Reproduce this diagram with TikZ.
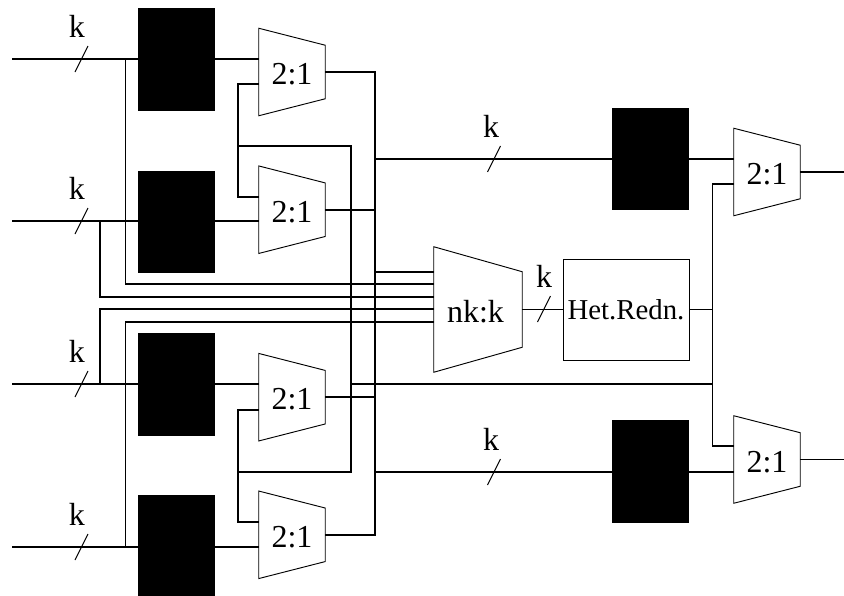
\documentclass[tikz,border=0pt]{standalone}
\usepackage{fontspec}
\setmainfont{Liberation Serif}
\usetikzlibrary{calc}
\tikzset{
  wire/.style={line width=1.25pt},
  thinwire/.style={line width=0.7pt},
  bufbox/.style={draw, thinwire, fill=black, minimum width=57pt, minimum height=76pt, inner sep=0pt},
  hetbox/.style={draw, thinwire, minimum width=94.5pt, minimum height=75.75pt, inner sep=0pt, font=\fontsize{21.6}{22}\selectfont},
  muxbox/.style={minimum width=49.5pt, minimum height=65.25pt, inner sep=0pt, font=\fontsize{24}{24}\selectfont, text height=19pt, text depth=0pt},
  nkbox/.style={minimum width=66pt, minimum height=93.75pt, inner sep=0pt, font=\fontsize{24}{24}\selectfont, text height=19pt, text depth=0pt},
  klabel/.style={anchor=base, inner sep=0pt, font=\fontsize{24}{24}\selectfont},
}
% name, x, y, text
\newcommand{\muxnode}[4]{
  \node[muxbox] (#1) at (#2,#3) {#4};
  \draw[thinwire] (#1.north west) -- ($(#1.north east)+(0,17)$) -- ($(#1.south east)+(0,-17)$) -- (#1.south west) -- cycle;
}
% name, slash x, y, k x
\newcommand{\busmark}[4]{
  \coordinate (#1) at (#2,#3);
  \draw[thinwire] ($(#1)+(-6.5,13)$) -- ($(#1)+(6.5,-13)$);
  \node[klabel] (#1k) at (#4,#3-22) {k};
}
\begin{document}
\begin{tikzpicture}[x=0.75pt, y=-0.75pt]
\useasboundingbox (0,0) rectangle (844,596);
% Input side
\node[bufbox] (bufA) at (176,59.3) {};
\node[bufbox] (bufB) at (176,222) {};
\node[bufbox] (bufC) at (176,384.5) {};
\node[bufbox] (bufD) at (176,546.5) {};
\muxnode{muxA}{292}{72}{2:1}
\muxnode{muxB}{292}{209.7}{2:1}
\muxnode{muxC}{292}{397.2}{2:1}
\muxnode{muxD}{292}{534.8}{2:1}
\coordinate (inA) at (12,59);
\coordinate (inB) at (12,221);
\coordinate (inC) at (12,384);
\coordinate (inD) at (12,547);
\draw[wire] (inA) -- (inA -| bufA.west);
\draw[wire] (inB) -- (inB -| bufB.west);
\draw[wire] (inC) -- (inC -| bufC.west);
\draw[wire] (inD) -- (inD -| bufD.west);
\draw[wire] (inA -| bufA.east) -- (inA -| muxA.west);
\draw[wire] (inB -| bufB.east) -- (inB -| muxB.west);
\draw[wire] (inC -| bufC.east) -- (inC -| muxC.west);
\draw[wire] (inD -| bufD.east) -- (inD -| muxD.west);
\busmark{markA}{81.5}{59}{77}
\busmark{markB}{81.5}{221}{77}
\busmark{markC}{81.5}{384}{77}
\busmark{markD}{81.5}{547}{77}
% Middle
\node[bufbox] (bufE) at (650.5,159) {};
\node[bufbox] (bufF) at (650.5,471.5) {};
\node[nkbox] (nkmux) at (478,309.5) {nk:k\kern 3.75pt};
\draw[thinwire] (nkmux.north west) -- ($(nkmux.north east)+(0,25)$) -- ($(nkmux.south east)+(0,-25)$) -- (nkmux.south west) -- cycle;
\node[hetbox] (het) at (626,309.5) {Het.Redn.};
\busmark{markE}{494}{159}{491}
\busmark{markF}{494}{472}{491}
\busmark{markG}{544}{309}{544}
% Feedback between the muxes
\coordinate (fbA) at (238,84);
\coordinate (fbB) at (238,197);
\coordinate (fbC) at (238,410);
\coordinate (fbD) at (238,522);
\coordinate (fbUp) at (238,146);
\coordinate (fbLo) at (238,472);
\coordinate (crossUp) at (351,146);
\coordinate (crossLo) at (351,472);
\coordinate (crossC) at (351,384);
\draw[wire] (fbA -| muxA.west) -- (fbA) -- (fbB) -- (fbB -| muxB.west);
\draw[wire] (fbC -| muxC.west) -- (fbC) -- (fbD) -- (fbD -| muxD.west);
\draw[wire] (fbUp) -- (crossUp) -- (crossLo) -- (fbLo);
% Output rail
\coordinate (railA) at (375.3,159);
\coordinate (railB) at (375.3,472);
\draw[wire] (muxA.east) -| (railA) -- (railB) |- (muxD.east);
\draw[wire] (muxB.east) -- (muxB.east -| railA);
\draw[wire] (muxC.east) -- (muxC.east -| railA);
\draw[wire] (railA) -- (railA -| bufE.west);
\draw[wire] (railB) -- (railB -| bufF.west);
% Bus into nk:k
\coordinate (tapA) at (125.5,59);
\coordinate (tapB) at (100,221);
\coordinate (tapC) at (100,384);
\coordinate (tapD) at (125.5,547);
\coordinate (busE) at (434,272);
\coordinate (busA) at (434,284);
\coordinate (busB) at (434,296.7);
\coordinate (busC) at (434,309);
\coordinate (busD) at (434,321.7);
\draw[wire] (tapA) |- (busA);
\draw[wire] (tapB) |- (busB);
\draw[wire] (tapC) |- (busC);
\draw[wire] (tapD) |- (busD);
\draw[wire] (busE -| railA) -- (busE);
\draw[wire] (nkmux.east) -- (het.west);
% Output side
\muxnode{muxE}{767}{172}{2:1}
\muxnode{muxF}{767}{459.5}{2:1}
\coordinate (selUp) at (712.5,184);
\coordinate (selLo) at (712.5,446);
\coordinate (outE) at (844,172);
\coordinate (outF) at (844,459.5);
\draw[wire] (railA -| bufE.east) -- (railA -| muxE.west);
\draw[wire] (railB -| bufF.east) -- (railB -| muxF.west);
\draw[wire] (selUp -| muxE.west) -- (selUp) -- (selLo) -- (selLo -| muxF.west);
\draw[wire] (het.east) -- (het.east -| selUp);
\draw[wire] (crossC) -- (crossC -| selUp);
\draw[wire] (muxE.east) -- (outE);
\draw[wire] (muxF.east) -- (outF);
\end{tikzpicture}
\end{document}
